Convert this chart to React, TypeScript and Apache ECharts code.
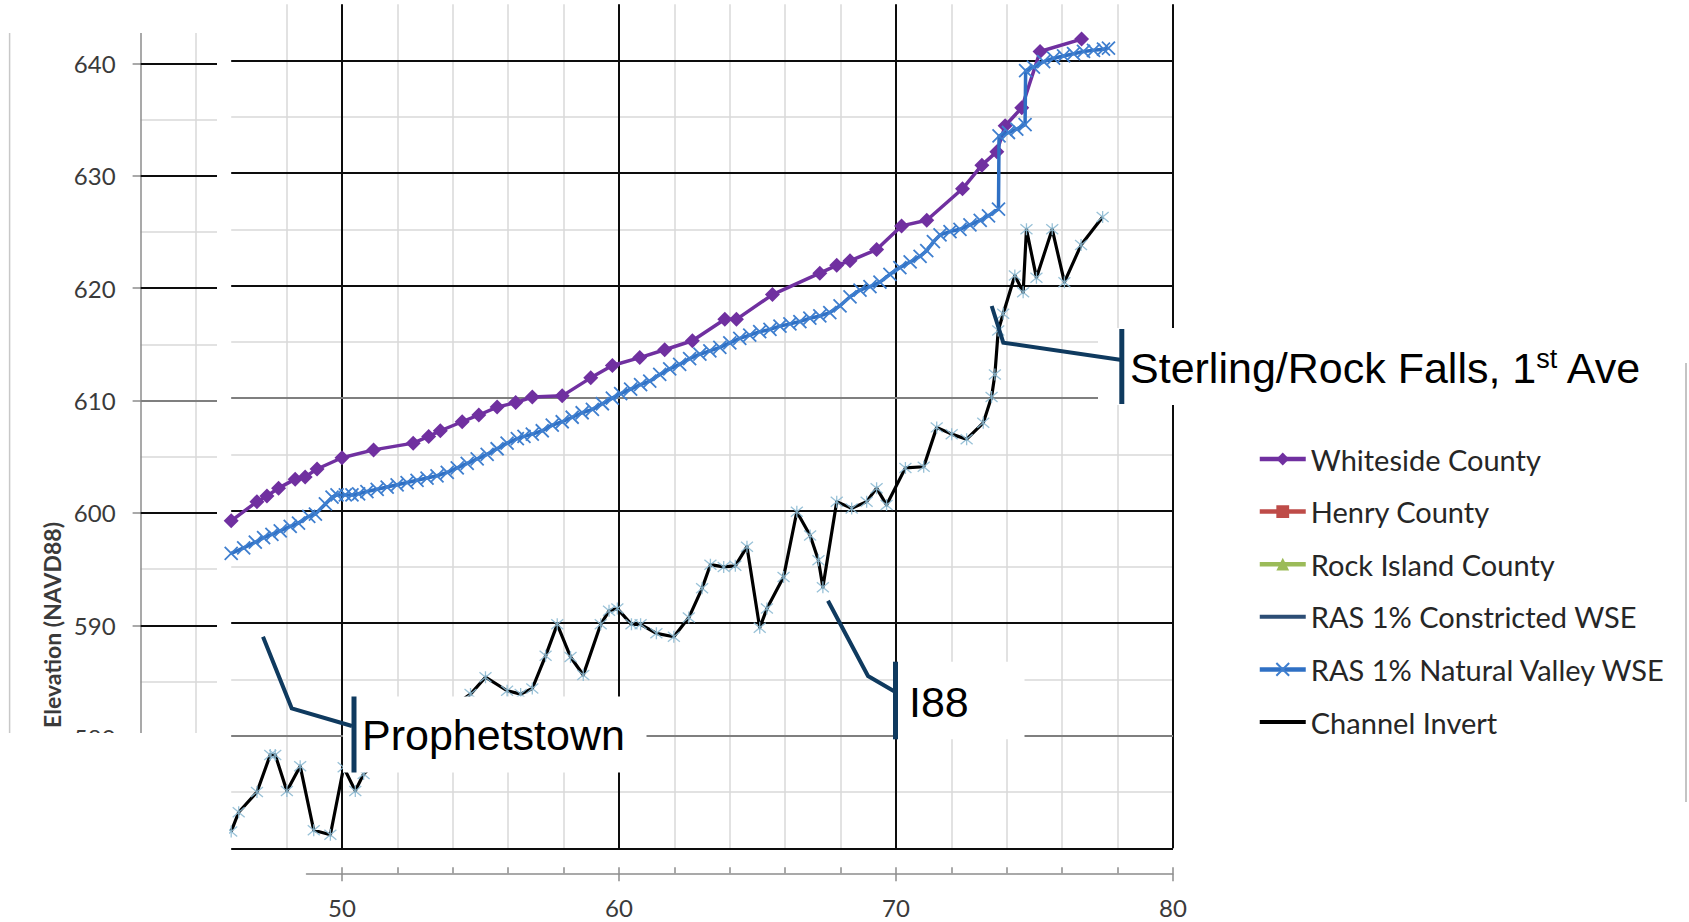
import React, { useEffect, useRef } from "react";
import * as echarts from "echarts";

// ---------------- data ----------------
const seriesNames = [
  "Whiteside County",
  "Henry County",
  "Rock Island County",
  "RAS 1% Constricted WSE",
  "RAS 1% Natural Valley WSE",
  "Channel Invert",
];

const whitesideCounty: number[][] = [
  [46.0, 599.1], [46.93, 600.8], [47.29, 601.3], [47.71, 602.0], [48.31, 602.8], [48.67, 603.0],
  [49.1, 603.7], [50.0, 604.7], [51.14, 605.4], [52.57, 606.0], [53.13, 606.6], [53.55, 607.1],
  [54.34, 607.9], [54.94, 608.5], [55.6, 609.2], [56.27, 609.6], [56.87, 610.1], [57.95, 610.2],
  [58.98, 611.8], [59.76, 612.9], [60.75, 613.6], [61.65, 614.3], [62.65, 615.1], [63.82, 617.0],
  [64.24, 617.0], [65.54, 619.2], [67.25, 621.1], [67.86, 621.8], [68.34, 622.2], [69.3, 623.2],
  [70.2, 625.3], [71.11, 625.8], [72.4, 628.6], [73.1, 630.7], [73.64, 631.9], [73.94, 634.2],
  [74.54, 635.8], [75.2, 640.8], [76.7, 641.9],
];

const henryCounty: number[][] = [];
const rockIslandCounty: number[][] = [];
const constrictedWse: number[][] = [];

const naturalValleyWse: number[][] = [
  [46.0, 596.2], [46.45, 596.7], [46.87, 597.2], [47.17, 597.6], [47.47, 597.9], [47.77, 598.2],
  [48.13, 598.6], [48.43, 598.9], [48.8, 599.5], [49.04, 599.7], [49.4, 600.6], [49.64, 601.2],
  [49.82, 601.4], [50.12, 601.4], [50.36, 601.4], [50.6, 601.5], [50.9, 601.7], [51.27, 601.9],
  [51.63, 602.1], [51.99, 602.3], [52.35, 602.5], [52.71, 602.7], [53.07, 602.9], [53.43, 603.1],
  [53.8, 603.4], [54.16, 603.8], [54.52, 604.2], [54.88, 604.6], [55.24, 605.0], [55.6, 605.5],
  [55.96, 606.0], [56.33, 606.4], [56.57, 606.6], [56.87, 606.8], [57.23, 607.1], [57.59, 607.6],
  [57.95, 607.9], [58.31, 608.3], [58.67, 608.7], [59.04, 609.0], [59.4, 609.5], [59.76, 610.0],
  [60.06, 610.4], [60.42, 610.8], [60.78, 611.2], [61.11, 611.5], [61.47, 612.1], [61.83, 612.6],
  [62.19, 613.0], [62.55, 613.5], [62.92, 613.9], [63.28, 614.2], [63.64, 614.5], [64.0, 614.9],
  [64.36, 615.3], [64.72, 615.6], [65.08, 615.9], [65.45, 616.1], [65.81, 616.4], [66.17, 616.6],
  [66.53, 616.8], [66.89, 617.1], [67.25, 617.3], [67.61, 617.6], [67.98, 618.2], [68.34, 619.0],
  [68.7, 619.6], [69.06, 619.9], [69.42, 620.3], [69.78, 621.0], [70.14, 621.6], [70.51, 622.1],
  [70.87, 622.6], [71.11, 623.1], [71.35, 623.9], [71.59, 624.5], [71.95, 624.8], [72.31, 625.0],
  [72.67, 625.4], [73.04, 625.8], [73.34, 626.2], [73.7, 626.8], [73.72, 633.3], [74.06, 633.6],
  [74.36, 633.9], [74.66, 634.3], [74.68, 639.1], [74.96, 639.4], [75.33, 639.9], [75.69, 640.2],
  [76.05, 640.4], [76.41, 640.6], [76.77, 640.8], [77.13, 640.9], [77.49, 641.0], [77.67, 641.1],
];

const channelInvert: number[][] = [
  [46.0, 571.5], [46.27, 573.2], [46.93, 575.0], [47.41, 578.3], [47.59, 578.3], [48.01, 575.1],
  [48.49, 577.3], [48.98, 571.6], [49.58, 571.2], [50.06, 577.2], [50.48, 575.1], [50.78, 576.6],
  [51.6, 578.6], [52.6, 580.4], [53.6, 581.9], [54.64, 583.7], [55.18, 585.2], [55.96, 584.0],
  [56.45, 583.7], [56.87, 584.2], [57.35, 587.1], [57.77, 589.9], [58.25, 587.0], [58.71, 585.4],
  [59.34, 589.9], [59.64, 591.1], [59.94, 591.3], [60.45, 589.9], [60.78, 589.9], [61.35, 589.1],
  [61.98, 588.8], [62.52, 590.5], [63.0, 593.1], [63.3, 595.2], [63.78, 595.0], [64.2, 595.1],
  [64.62, 596.8], [65.08, 589.6], [65.34, 591.3], [65.94, 594.1], [66.42, 599.9], [66.9, 597.8],
  [67.2, 595.6], [67.36, 593.2], [67.86, 600.8], [68.4, 600.2], [68.94, 600.8], [69.3, 602.0],
  [69.66, 600.5], [70.34, 603.8], [71.0, 603.9], [71.47, 607.4], [72.01, 606.8], [72.55, 606.35],
  [73.15, 607.8], [73.45, 610.1], [73.57, 612.1], [73.69, 616.0], [73.87, 617.5], [74.29, 620.9],
  [74.59, 619.4], [74.71, 625.0], [75.07, 620.7], [75.64, 625.0], [76.08, 620.3], [76.68, 623.6],
  [77.46, 626.1],
];

const xTickLabels = [50, 60, 70, 80];
const xTickMarks = [50, 52, 54, 56, 58, 60, 62, 64, 66, 68, 70, 72, 74, 76, 78, 80];
const yTickLabels = [580, 590, 600, 610, 620, 630, 640];
const yMajorValues = [570, 580, 590, 600, 610, 620, 630, 640];
const grayMajorValues = [580, 610];

const yAxisTitle = "Elevation (NAVD88)";
const labelProphetstown = "Prophetstown";
const labelI88 = "I88";
const labelSterling = ["Sterling/Rock Falls, 1", "st", " Ave"];

// ---------------- styles ----------------
const UI_FONT = "Lato, 'Noto Sans', sans-serif";
const ANN_FONT = "'Liberation Sans', Arial, sans-serif";
const NAVY = "#0f3a5f";
const AXIS_GRAY = "#8c8c8c";
const MINOR = "#d9d9d9";
const X_MARK = "path://M0,0L10,10M10,0L0,10";
const STAR_MARK = "path://M0,0L10,10M10,0L0,10M5,-1L5,11";
const BAR_ICON = "path://M0,0L46,0L46,4L0,4Z";

function measure(text: string, font: string): number {
  const c = document.createElement("canvas").getContext("2d");
  if (!c) return text.length * 20;
  c.font = font;
  return c.measureText(text).width;
}

function majorLineData(withX: boolean) {
  const ys = yMajorValues.map((v) => ({
    yAxis: v,
    lineStyle: { color: grayMajorValues.includes(v) ? "#7f7f7f" : "#0d0d0d", width: 2, type: "solid" },
  }));
  const xs = withX
    ? xTickLabels.map((v) => ({ xAxis: v, lineStyle: { color: "#0d0d0d", width: 2, type: "solid" } }))
    : [];
  return [...xs, ...ys];
}

export default function App() {
  const ref = useRef<HTMLDivElement>(null);

  useEffect(() => {
    if (!ref.current) return;
    const chart = echarts.init(ref.current, undefined, { renderer: "svg" });

    const mainFont = `43px ${ANN_FONT}`;
    const supFont = `27px ${ANN_FONT}`;
    const w1 = measure(labelSterling[0], mainFont);
    const w2 = measure(labelSterling[1], supFont);
    const sx = 1130;

    const annText = (text: string, x: number, y: number, size = 43) => ({
      type: "text",
      x,
      y,
      z: 102,
      style: {
        text,
        fill: "#000",
        fontFamily: ANN_FONT,
        fontSize: size,
        align: "left",
        verticalAlign: "middle",
      },
    });
    const whiteBox = (x: number, y: number, w: number, h: number) => ({
      type: "rect",
      z: 100,
      shape: { x, y, width: w, height: h },
      style: { fill: "#ffffff" },
    });
    const bar = (x: number, y: number, h: number) => ({
      type: "rect",
      z: 101,
      shape: { x, y, width: 5, height: h },
      style: { fill: NAVY },
    });
    const callout = (pts: number[][]) => ({
      type: "polyline",
      z: 101,
      shape: { points: pts },
      style: { stroke: NAVY, lineWidth: 4, fill: "none", lineJoin: "miter" },
    });

    const option: any = {
      animation: false,
      backgroundColor: "#ffffff",
      grid: [
        { left: 231.2, right: 516, top: 4.2, bottom: 73.7 },
        { left: 306.5, right: 516, top: 820, bottom: 48.7 },
        { left: 140.6, right: 1472, top: 7.1, bottom: 71.9 },
      ],
      xAxis: [
        {
          gridIndex: 0, type: "value", min: 46, max: 80, interval: 2,
          axisLine: { show: false }, axisTick: { show: false }, axisLabel: { show: false },
          splitLine: { show: true, showMinLine: false, lineStyle: { color: MINOR, width: 1.5 } },
        },
        {
          gridIndex: 1, type: "value", min: 48.72, max: 80, position: "bottom",
          axisLine: { show: true, onZero: false, lineStyle: { color: AXIS_GRAY, width: 1.5 } },
          axisTick: { show: true, inside: true, length: 6, customValues: xTickMarks, lineStyle: { color: AXIS_GRAY, width: 1.5 } },
          axisLabel: { show: true, customValues: xTickLabels, margin: 22, fontFamily: UI_FONT, fontSize: 24, color: "#3a3a3a" },
          splitLine: { show: false },
        },
        {
          gridIndex: 1, type: "value", min: 48.72, max: 80, position: "bottom",
          axisLine: { show: false, onZero: false },
          axisTick: { show: true, inside: false, length: 8, customValues: xTickLabels, lineStyle: { color: AXIS_GRAY, width: 1.5 } },
          axisLabel: { show: false },
          splitLine: { show: false },
        },
        {
          gridIndex: 2, type: "value", min: 0, max: 2.76, interval: 2,
          axisLine: { show: false }, axisTick: { show: false }, axisLabel: { show: false },
          splitLine: { show: true, showMinLine: false, showMaxLine: false, lineStyle: { color: MINOR, width: 1.5 } },
        },
      ],
      yAxis: [
        {
          gridIndex: 0, type: "value", min: 570, max: 645, interval: 5,
          axisLine: { show: false }, axisTick: { show: false }, axisLabel: { show: false },
          splitLine: { show: true, showMaxLine: false, lineStyle: { color: MINOR, width: 1.5 } },
        },
        { gridIndex: 1, type: "value", min: 0, max: 1, show: false },
        {
          gridIndex: 2, type: "value", min: 570, max: 645, interval: 5,
          axisLine: { show: false }, axisTick: { show: false }, axisLabel: { show: false },
          splitLine: { show: true, showMaxLine: false, lineStyle: { color: MINOR, width: 1.5 } },
        },
        {
          gridIndex: 2, type: "value", min: 570, max: 645, interval: 10, position: "left",
          axisLine: { show: true, onZero: false, lineStyle: { color: AXIS_GRAY, width: 1.5 } },
          axisTick: { show: true, length: 8, lineStyle: { color: AXIS_GRAY, width: 1.5 } },
          axisLabel: {
            show: true, margin: 25, fontFamily: UI_FONT, fontSize: 24, color: "#3a3a3a",
            formatter: (v: number) => (yTickLabels.includes(v) ? String(v) : ""),
          },
          splitLine: { show: false },
        },
      ],
      legend: {
        orient: "vertical",
        left: 1252.5,
        top: 439.5,
        itemWidth: 46,
        itemHeight: 16,
        itemGap: 23.6,
        selectedMode: false,
        lineStyle: { width: 4.5 },
        textStyle: { fontFamily: UI_FONT, fontSize: 29, color: "#262626", lineHeight: 28 },
        data: [
          { name: seriesNames[0] },
          { name: seriesNames[1] },
          { name: seriesNames[2] },
          { name: seriesNames[3], icon: BAR_ICON },
          { name: seriesNames[4] },
          { name: seriesNames[5], icon: BAR_ICON },
        ],
      },
      series: [
        {
          type: "line", name: "grid-major-main", xAxisIndex: 0, yAxisIndex: 0, data: [], silent: true,
          markLine: { silent: true, z: 1, symbol: ["none", "none"], label: { show: false }, animation: false, data: majorLineData(true) },
        },
        {
          type: "line", name: "grid-major-strip", xAxisIndex: 3, yAxisIndex: 2, data: [], silent: true,
          markLine: { silent: true, z: 1, symbol: ["none", "none"], label: { show: false }, animation: false, data: majorLineData(false) },
        },
        {
          type: "line", name: seriesNames[0], xAxisIndex: 0, yAxisIndex: 0, data: whitesideCounty,
          symbol: "diamond", symbolSize: 15, showAllSymbol: true,
          lineStyle: { color: "#7030a0", width: 3.5 }, itemStyle: { color: "#7030a0" }, z: 3,
        },
        {
          type: "line", name: seriesNames[1], xAxisIndex: 0, yAxisIndex: 0, data: henryCounty,
          symbol: "rect", symbolSize: 12, lineStyle: { color: "#be4b48", width: 3 }, itemStyle: { color: "#be4b48" },
        },
        {
          type: "line", name: seriesNames[2], xAxisIndex: 0, yAxisIndex: 0, data: rockIslandCounty,
          symbol: "triangle", symbolSize: 12, lineStyle: { color: "#9bbb59", width: 3 }, itemStyle: { color: "#9bbb59" },
        },
        {
          type: "line", name: seriesNames[3], xAxisIndex: 0, yAxisIndex: 0, data: constrictedWse,
          symbol: "none", lineStyle: { color: "#2c4d75", width: 3 }, itemStyle: { color: "#2c4d75" },
        },
        {
          type: "line", name: seriesNames[4], xAxisIndex: 0, yAxisIndex: 0, data: naturalValleyWse,
          symbol: X_MARK, symbolSize: 13, showAllSymbol: true,
          lineStyle: { color: "#2f70c4", width: 3.5 },
          itemStyle: { color: "rgba(0,0,0,0)", borderColor: "#3f7fcf", borderWidth: 1.8 }, z: 4,
        },
        {
          type: "line", name: seriesNames[5], xAxisIndex: 0, yAxisIndex: 0, data: channelInvert,
          symbol: "none", lineStyle: { color: "#000000", width: 3.2, join: "round" }, itemStyle: { color: "#000000" }, z: 3,
        },
        {
          type: "scatter", name: "Channel Invert points", xAxisIndex: 0, yAxisIndex: 0, data: channelInvert,
          symbol: STAR_MARK, symbolSize: 12,
          itemStyle: { color: "rgba(0,0,0,0)", borderColor: "#8dbad3", borderWidth: 1.3, opacity: 0.9 }, z: 5, silent: true,
        },
      ],
      graphic: [
        whiteBox(0, 0, 229, 33),
        whiteBox(0, 733, 229, 189),
        {
          type: "line", z: 101, shape: { x1: 9.6, y1: 33, x2: 9.6, y2: 733 },
          style: { stroke: "#c8c8c8", lineWidth: 1.5 },
        },
        {
          type: "line", z: 101, shape: { x1: 1686, y1: 363, x2: 1686, y2: 802 },
          style: { stroke: "#c4c4c4", lineWidth: 2 },
        },
        {
          type: "text", z: 102, x: 52, y: 625, rotation: Math.PI / 2,
          style: {
            text: yAxisTitle, fill: "#3a3a3a", fontFamily: UI_FONT, fontWeight: "bold", fontSize: 23,
            align: "center", verticalAlign: "middle",
          },
        },
        // Prophetstown
        whiteBox(343, 696.5, 303.5, 76),
        callout([[263, 636.7], [291.7, 708.3], [352, 726]]),
        bar(351.5, 696.5, 76),
        annText(labelProphetstown, 362, 734.5),
        // I88
        whiteBox(897, 661.7, 127.5, 77.6),
        callout([[828, 600.7], [868, 676], [895, 691.7]]),
        bar(893, 661.7, 77.6),
        annText(labelI88, 909, 702),
        // Sterling
        whiteBox(1098, 328, 552, 77),
        callout([[991.7, 306], [1003.3, 342.7], [1121.7, 360]]),
        bar(1119.3, 329, 75),
        annText(labelSterling[0], sx, 368),
        annText(labelSterling[1], sx + w1, 358.5, 27),
        annText(labelSterling[2], sx + w1 + w2, 368),
      ],
    };

    chart.setOption(option);
    return () => chart.dispose();
  }, []);

  return (
    <div
      ref={ref}
      style={{ position: "absolute", left: 0, top: 0, width: 1689, height: 922, background: "#ffffff" }}
    />
  );
}
